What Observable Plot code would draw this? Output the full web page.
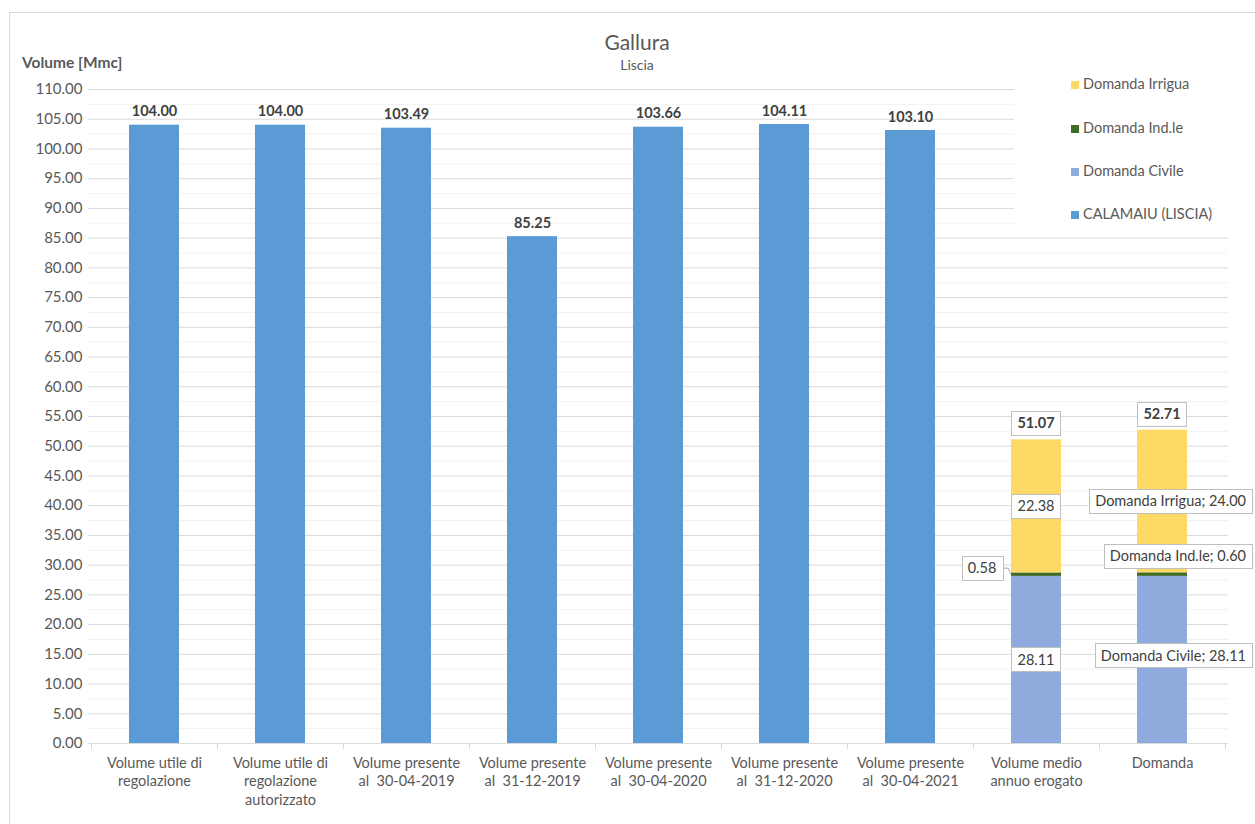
<!DOCTYPE html>
<html>
<head>
<meta charset="utf-8">
<script src="https://cdn.jsdelivr.net/npm/d3@7"></script>
<script src="https://cdn.jsdelivr.net/npm/@observablehq/plot@0.6"></script>
<style>
  html, body { margin: 0; padding: 0; background: #fff; overflow: hidden; }
  #wrap { position: relative; width: 1255px; height: 824px; overflow: hidden; font-family: Lato, "DejaVu Sans", sans-serif; }
  #frame { position: absolute; left: 9px; top: 12px; width: 1300px; height: 900px; border: 1px solid #d9d9d9; }
  #chart { position: absolute; left: 0; top: 0; }
  #title { position: absolute; left: 9px; width: 1256px; top: 29px; text-align: center; font-size: 21px; color: #595959; line-height: 26px; }
  #subtitle { position: absolute; left: 9px; width: 1256px; top: 56px; text-align: center; font-size: 14px; color: #595959; line-height: 18px; }
  #ytitle { position: absolute; left: 22px; top: 53px; font-size: 15.5px; font-weight: bold; color: #595959; line-height: 18px; }
  #legend { position: absolute; left: 1014px; top: 68px; width: 214px; height: 164px; background: #fff; }
  .li { position: absolute; left: 57px; height: 18px; line-height: 18px; font-size: 14.5px; color: #595959; white-space: nowrap; }
  .sw { display: inline-block; width: 8px; height: 8px; margin-right: 4px; vertical-align: 0px; }
</style>
</head>
<body>
<div id="wrap">
  <div id="frame"></div>
  <div id="chart"></div>
  <div id="title"></div>
  <div id="subtitle"></div>
  <div id="ytitle"></div>
  <div id="legend"></div>
</div>
<script>
// ---------- data ----------
const chartTitle = "Gallura";
const chartSubtitle = "Liscia";
const yTitle = "Volume [Mmc]";

const categories = [
  "Volume utile di regolazione",
  "Volume utile di regolazione autorizzato",
  "Volume presente al 30-04-2019",
  "Volume presente al 31-12-2019",
  "Volume presente al 30-04-2020",
  "Volume presente al 31-12-2020",
  "Volume presente al 30-04-2021",
  "Volume medio annuo erogato",
  "Domanda"
];
const categoryLabels = [
  "Volume utile di\nregolazione",
  "Volume utile di\nregolazione\nautorizzato",
  "Volume presente\nal  30-04-2019",
  "Volume presente\nal  31-12-2019",
  "Volume presente\nal  30-04-2020",
  "Volume presente\nal  31-12-2020",
  "Volume presente\nal  30-04-2021",
  "Volume medio\nannuo erogato",
  "Domanda"
];

const reservoirName = "CALAMAIU (LISCIA)";
const reservoirCategories = categories.slice(0, 7);
const reservoirValues = [104.00, 104.00, 103.49, 85.25, 103.66, 104.11, 103.10];

const stackCategories = ["Volume medio annuo erogato", "Domanda"];
const civileValues = [28.11, 28.11];
const industrialeValues = [0.58, 0.60];
const irriguaValues = [22.38, 24.00];
const stackTotals = [51.07, 52.71];

const seriesNames = ["Domanda Irrigua", "Domanda Ind.le", "Domanda Civile", reservoirName];
const seriesColors = ["#FFD966", "#3E6B26", "#8FAADC", "#5B9BD5"];

const yMajorTicks = [0, 5, 10, 15, 20, 25, 30, 35, 40, 45, 50, 55, 60, 65, 70, 75, 80, 85, 90, 95, 100, 105, 110];
const yMinorTicks = [2.5, 7.5, 12.5, 17.5, 22.5, 27.5, 32.5, 37.5, 42.5, 47.5, 52.5, 57.5, 62.5, 67.5, 72.5, 77.5, 82.5, 87.5, 92.5, 97.5, 102.5, 107.5];

// ---------- derived tables ----------
const fmt = d3.format(".2f");
const FONT = "Lato";
const reservoirRows = reservoirCategories.map((c, i) => ({cat: c, value: reservoirValues[i], series: reservoirName}));
const stackRows = [];
stackCategories.forEach((c, i) => {
  stackRows.push({cat: c, series: "Domanda Civile", value: civileValues[i]});
  stackRows.push({cat: c, series: "Domanda Ind.le", value: industrialeValues[i]});
  stackRows.push({cat: c, series: "Domanda Irrigua", value: irriguaValues[i]});
});

// boxed data labels (positions in data units, small pixel nudges for styling)
const boxed = [
  // Volume medio annuo erogato
  {cat: stackCategories[0], pos: stackTotals[0], text: fmt(stackTotals[0]), bold: true, dy: -16},
  {cat: stackCategories[0], pos: civileValues[0] + industrialeValues[0] + irriguaValues[0] / 2, text: fmt(irriguaValues[0])},
  {cat: stackCategories[0], pos: civileValues[0] + industrialeValues[0] / 2, text: fmt(industrialeValues[0]), dx: -54, dy: -6, leader: true},
  {cat: stackCategories[0], pos: civileValues[0] / 2, text: fmt(civileValues[0])},
  // Domanda
  {cat: stackCategories[1], pos: stackTotals[1], text: fmt(stackTotals[1]), bold: true, dy: -16},
  {cat: stackCategories[1], pos: civileValues[1] + industrialeValues[1] + irriguaValues[1] / 2, text: "Domanda Irrigua; " + fmt(irriguaValues[1]), right: true},
  {cat: stackCategories[1], pos: civileValues[1] + industrialeValues[1] / 2, text: "Domanda Ind.le; " + fmt(industrialeValues[1]), dy: -18, right: true},
  {cat: stackCategories[1], pos: civileValues[1] / 2, text: "Domanda Civile; " + fmt(civileValues[1]), dy: -4, right: true}
];

const measureCtx = document.createElement("canvas").getContext("2d");

function boxedLabels(rows) {
  return (index, scales, values, dims) => {
    const x = scales.x, y = scales.y, bw = x.bandwidth();
    const g = d3.create("svg:g");
    for (const r of rows) {
      const fs = 14.5;
      measureCtx.font = `${r.bold ? "bold " : ""}${fs}px ${FONT}`;
      const w = measureCtx.measureText(r.text).width + 12, h = 24;
      let cx = x(r.cat) + bw / 2 + (r.dx || 0);
      const cy = y(r.pos) + (r.dy || 0);
      if (r.right) cx = dims.width - 3 - w / 2;
      if (r.leader) {
        const barLeft = x(r.cat);
        g.append("polyline")
          .attr("points", `${cx + w / 2},${cy} ${barLeft - 3},${cy} ${barLeft},${y(r.pos)}`)
          .attr("fill", "none").attr("stroke", "#a6a6a6");
      }
      g.append("rect")
        .attr("x", Math.round(cx - w / 2) + 0.5).attr("y", Math.round(cy - h / 2) + 0.5)
        .attr("width", Math.round(w)).attr("height", h)
        .attr("fill", "#fff").attr("stroke", "#bfbfbf");
      g.append("text")
        .attr("x", cx).attr("y", cy).attr("dy", "0.35em")
        .attr("text-anchor", "middle")
        .attr("font-family", FONT).attr("font-size", fs)
        .attr("font-weight", r.bold ? "bold" : null)
        .attr("fill", "#404040")
        .text(r.text);
    }
    return g.node();
  };
}

function bandEdgeTicks(index, scales, values, dims) {
  const x = scales.x;
  const step = x.step(), bw = x.bandwidth();
  const dom = x.domain();
  const edges = dom.map(c => x(c) - (step - bw) / 2);
  edges.push(x(dom[dom.length - 1]) + bw + (step - bw) / 2);
  const y0 = dims.height - dims.marginBottom;
  const g = d3.create("svg:g").attr("stroke", "#d9d9d9");
  for (const e of edges) {
    g.append("line").attr("x1", Math.round(e) + 0.5).attr("x2", Math.round(e) + 0.5).attr("y1", y0).attr("y2", y0 + 6);
  }
  return g.node();
}

const plot = Plot.plot({
  width: 1255,
  height: 824,
  marginTop: 89,
  marginBottom: 81,
  marginLeft: 88,
  marginRight: 27,
  style: {fontFamily: FONT, fontSize: "15px", color: "#595959", background: "transparent"},
  x: {domain: categories, paddingInner: 0.6, paddingOuter: 0.3, axis: null},
  y: {domain: [0, 110], ticks: yMajorTicks, tickFormat: fmt, tickSize: 0, tickPadding: 6, label: null},
  color: {domain: seriesNames, range: seriesColors},
  marks: [
    Plot.ruleY(yMinorTicks, {stroke: "#f2f2f2"}),
    Plot.ruleY(yMajorTicks, {stroke: "#d9d9d9"}),
    bandEdgeTicks,
    Plot.barY(reservoirRows, {x: "cat", y: "value", fill: "series"}),
    Plot.barY(stackRows, {x: "cat", y: "value", fill: "series"}),
    Plot.text(reservoirRows, {x: "cat", y: "value", text: d => fmt(d.value), lineAnchor: "bottom", dy: -9, fontWeight: "bold", fontSize: 14.5, fill: "#404040"}),
    Plot.text(categories, {x: d => d, text: (d, i) => categoryLabels[i], frameAnchor: "bottom", lineAnchor: "top", dy: 12, fontSize: 14.5, lineHeight: 1.25, fill: "#595959"}),
    boxedLabels(boxed)
  ]
});
document.getElementById("chart").appendChild(plot);

document.getElementById("title").textContent = chartTitle;
document.getElementById("subtitle").textContent = chartSubtitle;
document.getElementById("ytitle").textContent = yTitle;

const legend = document.getElementById("legend");
const legendTops = [7, 51, 94, 137];
seriesNames.forEach((name, i) => {
  const item = document.createElement("div");
  item.className = "li";
  item.style.top = legendTops[i] + "px";
  const sw = document.createElement("span");
  sw.className = "sw";
  sw.style.background = seriesColors[i];
  item.appendChild(sw);
  item.appendChild(document.createTextNode(name));
  legend.appendChild(item);
});
</script>
</body>
</html>
